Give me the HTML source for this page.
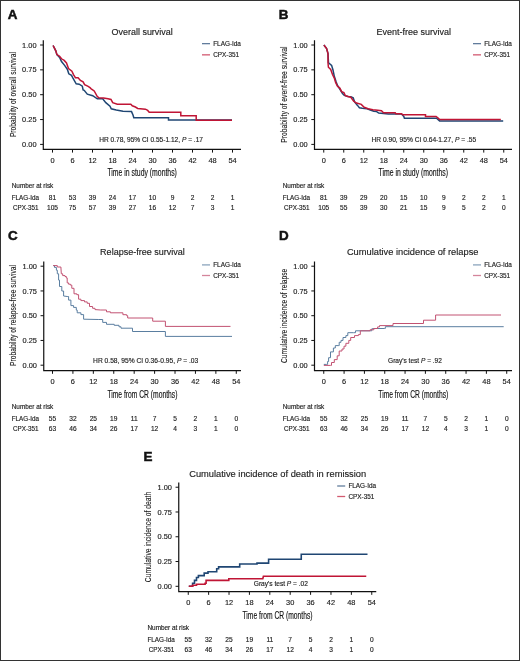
<!DOCTYPE html>
<html><head><meta charset="utf-8"><style>
html,body{margin:0;padding:0;background:#fff;}
body{width:520px;height:661px;overflow:hidden;font-family:"Liberation Sans",sans-serif;position:relative;}
.frame{position:absolute;left:0;top:0;width:518px;height:659px;border:1px solid #333;}
svg{display:block;filter:blur(0.3px);}
</style></head><body>
<svg width="520" height="661" viewBox="0 0 520 661" font-family="Liberation Sans, sans-serif">
<rect x="0" y="0" width="520" height="661" fill="#fff"/>
<text x="7.8" y="18.9" font-size="13.4" font-weight="bold" fill="#111" stroke="#111" stroke-width="0.5">A</text>
<text x="142.15" y="34.6" font-size="9.6" text-anchor="middle" textLength="61.3" lengthAdjust="spacingAndGlyphs" fill="#222" stroke="#222" stroke-width="0.15">Overall survival</text>
<path d="M43.3 40.3V149.4H241" fill="none" stroke="#111" stroke-width="1.2"/>
<text x="36.5" y="147" font-size="7.4" text-anchor="end" fill="#222" stroke="#222" stroke-width="0.15">0.00</text>
<text x="36.5" y="122.15" font-size="7.4" text-anchor="end" fill="#222" stroke="#222" stroke-width="0.15">0.25</text>
<text x="36.5" y="97.3" font-size="7.4" text-anchor="end" fill="#222" stroke="#222" stroke-width="0.15">0.50</text>
<text x="36.5" y="72.45" font-size="7.4" text-anchor="end" fill="#222" stroke="#222" stroke-width="0.15">0.75</text>
<text x="36.5" y="47.6" font-size="7.4" text-anchor="end" fill="#222" stroke="#222" stroke-width="0.15">1.00</text>
<text x="52.5" y="162.8" font-size="7.4" text-anchor="middle" fill="#222" stroke="#222" stroke-width="0.15">0</text>
<text x="72.5" y="162.8" font-size="7.4" text-anchor="middle" fill="#222" stroke="#222" stroke-width="0.15">6</text>
<text x="92.5" y="162.8" font-size="7.4" text-anchor="middle" fill="#222" stroke="#222" stroke-width="0.15">12</text>
<text x="112.5" y="162.8" font-size="7.4" text-anchor="middle" fill="#222" stroke="#222" stroke-width="0.15">18</text>
<text x="132.5" y="162.8" font-size="7.4" text-anchor="middle" fill="#222" stroke="#222" stroke-width="0.15">24</text>
<text x="152.5" y="162.8" font-size="7.4" text-anchor="middle" fill="#222" stroke="#222" stroke-width="0.15">30</text>
<text x="172.5" y="162.8" font-size="7.4" text-anchor="middle" fill="#222" stroke="#222" stroke-width="0.15">36</text>
<text x="192.5" y="162.8" font-size="7.4" text-anchor="middle" fill="#222" stroke="#222" stroke-width="0.15">42</text>
<text x="212.5" y="162.8" font-size="7.4" text-anchor="middle" fill="#222" stroke="#222" stroke-width="0.15">48</text>
<text x="232.5" y="162.8" font-size="7.4" text-anchor="middle" fill="#222" stroke="#222" stroke-width="0.15">54</text>
<path d="M40.1 144.4H43.3M40.1 119.55H43.3M40.1 94.7H43.3M40.1 69.85H43.3M40.1 45H43.3M52.5 149.4V152.6M72.5 149.4V152.6M92.5 149.4V152.6M112.5 149.4V152.6M132.5 149.4V152.6M152.5 149.4V152.6M172.5 149.4V152.6M192.5 149.4V152.6M212.5 149.4V152.6M232.5 149.4V152.6" fill="none" stroke="#111" stroke-width="1"/>
<text x="142.15" y="176.3" font-size="10.2" text-anchor="middle" textLength="69.5" lengthAdjust="spacingAndGlyphs" fill="#111" stroke="#111" stroke-width="0.15">Time in study (months)</text>
<text transform="translate(15.6 94.6) rotate(-90)" x="0" y="0" font-size="9.8" text-anchor="middle" textLength="85" lengthAdjust="spacingAndGlyphs" fill="#111" stroke="#111" stroke-width="0.08">Probability of overall survival</text>
<path d="M202 43.65h8" stroke="#1f4673" stroke-width="1.3" opacity="0.7"/>
<path d="M202 54.85h8" stroke="#c01535" stroke-width="1.3" opacity="0.7"/>
<text x="213.2" y="46.05" font-size="6.4" fill="#222" stroke="#222" stroke-width="0.15">FLAG-Ida</text>
<text x="213.2" y="57.25" font-size="6.4" fill="#222" stroke="#222" stroke-width="0.15">CPX-351</text>
<text x="99.2" y="142.3" font-size="6.6" stroke="#222" stroke-width="0.15" textLength="103.8" lengthAdjust="spacingAndGlyphs" fill="#222">HR 0.78, 95% CI 0.55-1.12, <tspan font-style="italic">P</tspan> = .17</text>
<path d="M53.1 45.5 L55.8 50.8 L56.9 54.6 L59.6 57.5 L61.5 61.5 L64.6 65.4 L67.3 69.2 L68.8 73.8 L71.5 75.4 L73.1 78.5 L76.2 83.8 L79.2 84.2 L82.3 86.2 L83.1 90 L84.2 90.3 L87.3 94.2 L92.7 95.7 L97.3 98.8 L102.7 98.8 L105.8 102.6 L110 106.2 L111.25 108.75 L116.25 110 L123 111.2 L131.5 111.6 L133 115 L133.8 117.8 L168.5 117.8 L168.5 120 L232 120" fill="none" stroke="#1f4673" stroke-width="1.5" stroke-linejoin="miter"/>
<path d="M53.1 45.5 L55.8 50.8 L56.9 54.6 L59.6 56.2 L61.5 58.8 L64.2 60.4 L66.5 63 L68.5 68.5 L71.9 71.2 L73.5 74.6 L75.4 77.7 L78.1 77.7 L80.4 80.4 L83.1 81.9 L84.6 84.6 L87.7 86.2 L90 87.7 L91.2 88.8 L94.2 91 L97.3 96.5 L98.8 97.7 L103.5 98 L108 98.8 L111 99.5 L112.7 102.6 L117.3 104.2 L120 104.2 L130.8 104.2 L132.3 105.8 L135.4 107 L137.7 108.5 L145.4 109.2 L147.7 110.4 L149.2 112.2 L180.8 112.2 L180.8 115.8 L196.2 115.8 L196.2 120.2 L232 120.2" fill="none" stroke="#c01535" stroke-width="1.5" stroke-linejoin="miter"/>
<text x="11.75" y="188" font-size="6.4" fill="#222" stroke="#222" stroke-width="0.15">Number at risk</text>
<text x="11.75" y="199.8" font-size="6.3" fill="#222" stroke="#222" stroke-width="0.15">FLAG-Ida</text>
<text x="12.95" y="209.8" font-size="6.3" fill="#222" stroke="#222" stroke-width="0.15">CPX-351</text>
<text x="52.5" y="199.8" font-size="6.6" text-anchor="middle" fill="#222" stroke="#222" stroke-width="0.15">81</text>
<text x="52.5" y="209.8" font-size="6.6" text-anchor="middle" fill="#222" stroke="#222" stroke-width="0.15">105</text>
<text x="72.5" y="199.8" font-size="6.6" text-anchor="middle" fill="#222" stroke="#222" stroke-width="0.15">53</text>
<text x="72.5" y="209.8" font-size="6.6" text-anchor="middle" fill="#222" stroke="#222" stroke-width="0.15">75</text>
<text x="92.5" y="199.8" font-size="6.6" text-anchor="middle" fill="#222" stroke="#222" stroke-width="0.15">39</text>
<text x="92.5" y="209.8" font-size="6.6" text-anchor="middle" fill="#222" stroke="#222" stroke-width="0.15">57</text>
<text x="112.5" y="199.8" font-size="6.6" text-anchor="middle" fill="#222" stroke="#222" stroke-width="0.15">24</text>
<text x="112.5" y="209.8" font-size="6.6" text-anchor="middle" fill="#222" stroke="#222" stroke-width="0.15">39</text>
<text x="132.5" y="199.8" font-size="6.6" text-anchor="middle" fill="#222" stroke="#222" stroke-width="0.15">17</text>
<text x="132.5" y="209.8" font-size="6.6" text-anchor="middle" fill="#222" stroke="#222" stroke-width="0.15">27</text>
<text x="152.5" y="199.8" font-size="6.6" text-anchor="middle" fill="#222" stroke="#222" stroke-width="0.15">10</text>
<text x="152.5" y="209.8" font-size="6.6" text-anchor="middle" fill="#222" stroke="#222" stroke-width="0.15">16</text>
<text x="172.5" y="199.8" font-size="6.6" text-anchor="middle" fill="#222" stroke="#222" stroke-width="0.15">9</text>
<text x="172.5" y="209.8" font-size="6.6" text-anchor="middle" fill="#222" stroke="#222" stroke-width="0.15">12</text>
<text x="192.5" y="199.8" font-size="6.6" text-anchor="middle" fill="#222" stroke="#222" stroke-width="0.15">2</text>
<text x="192.5" y="209.8" font-size="6.6" text-anchor="middle" fill="#222" stroke="#222" stroke-width="0.15">7</text>
<text x="212.5" y="199.8" font-size="6.6" text-anchor="middle" fill="#222" stroke="#222" stroke-width="0.15">2</text>
<text x="212.5" y="209.8" font-size="6.6" text-anchor="middle" fill="#222" stroke="#222" stroke-width="0.15">3</text>
<text x="232.5" y="199.8" font-size="6.6" text-anchor="middle" fill="#222" stroke="#222" stroke-width="0.15">1</text>
<text x="232.5" y="209.8" font-size="6.6" text-anchor="middle" fill="#222" stroke="#222" stroke-width="0.15">1</text>
<text x="278.8" y="18.9" font-size="13.4" font-weight="bold" fill="#111" stroke="#111" stroke-width="0.5">B</text>
<text x="413.8" y="34.6" font-size="9.6" text-anchor="middle" textLength="74.4" lengthAdjust="spacingAndGlyphs" fill="#222" stroke="#222" stroke-width="0.15">Event-free survival</text>
<path d="M314.5 40.3V149.4H512" fill="none" stroke="#111" stroke-width="1.2"/>
<text x="307.7" y="147" font-size="7.4" text-anchor="end" fill="#222" stroke="#222" stroke-width="0.15">0.00</text>
<text x="307.7" y="122.15" font-size="7.4" text-anchor="end" fill="#222" stroke="#222" stroke-width="0.15">0.25</text>
<text x="307.7" y="97.3" font-size="7.4" text-anchor="end" fill="#222" stroke="#222" stroke-width="0.15">0.50</text>
<text x="307.7" y="72.45" font-size="7.4" text-anchor="end" fill="#222" stroke="#222" stroke-width="0.15">0.75</text>
<text x="307.7" y="47.6" font-size="7.4" text-anchor="end" fill="#222" stroke="#222" stroke-width="0.15">1.00</text>
<text x="323.75" y="162.8" font-size="7.4" text-anchor="middle" fill="#222" stroke="#222" stroke-width="0.15">0</text>
<text x="343.75" y="162.8" font-size="7.4" text-anchor="middle" fill="#222" stroke="#222" stroke-width="0.15">6</text>
<text x="363.75" y="162.8" font-size="7.4" text-anchor="middle" fill="#222" stroke="#222" stroke-width="0.15">12</text>
<text x="383.75" y="162.8" font-size="7.4" text-anchor="middle" fill="#222" stroke="#222" stroke-width="0.15">18</text>
<text x="403.75" y="162.8" font-size="7.4" text-anchor="middle" fill="#222" stroke="#222" stroke-width="0.15">24</text>
<text x="423.75" y="162.8" font-size="7.4" text-anchor="middle" fill="#222" stroke="#222" stroke-width="0.15">30</text>
<text x="443.75" y="162.8" font-size="7.4" text-anchor="middle" fill="#222" stroke="#222" stroke-width="0.15">36</text>
<text x="463.75" y="162.8" font-size="7.4" text-anchor="middle" fill="#222" stroke="#222" stroke-width="0.15">42</text>
<text x="483.75" y="162.8" font-size="7.4" text-anchor="middle" fill="#222" stroke="#222" stroke-width="0.15">48</text>
<text x="503.75" y="162.8" font-size="7.4" text-anchor="middle" fill="#222" stroke="#222" stroke-width="0.15">54</text>
<path d="M311.3 144.4H314.5M311.3 119.55H314.5M311.3 94.7H314.5M311.3 69.85H314.5M311.3 45H314.5M323.75 149.4V152.6M343.75 149.4V152.6M363.75 149.4V152.6M383.75 149.4V152.6M403.75 149.4V152.6M423.75 149.4V152.6M443.75 149.4V152.6M463.75 149.4V152.6M483.75 149.4V152.6M503.75 149.4V152.6" fill="none" stroke="#111" stroke-width="1"/>
<text x="413.3" y="176.3" font-size="10.2" text-anchor="middle" textLength="69.5" lengthAdjust="spacingAndGlyphs" fill="#111" stroke="#111" stroke-width="0.15">Time in study (months)</text>
<text transform="translate(286.8 94.6) rotate(-90)" x="0" y="0" font-size="9.8" text-anchor="middle" textLength="96.4" lengthAdjust="spacingAndGlyphs" fill="#111" stroke="#111" stroke-width="0.08">Probability of event-free survival</text>
<path d="M473 43.65h8" stroke="#1f4673" stroke-width="1.3" opacity="0.7"/>
<path d="M473 54.85h8" stroke="#c01535" stroke-width="1.3" opacity="0.7"/>
<text x="484.2" y="46.05" font-size="6.4" fill="#222" stroke="#222" stroke-width="0.15">FLAG-Ida</text>
<text x="484.2" y="57.25" font-size="6.4" fill="#222" stroke="#222" stroke-width="0.15">CPX-351</text>
<text x="371.5" y="142.3" font-size="6.6" stroke="#222" stroke-width="0.15" textLength="104.7" lengthAdjust="spacingAndGlyphs" fill="#222">HR 0.90, 95% CI 0.64-1.27, <tspan font-style="italic">P</tspan> = .55</text>
<path d="M323.9 45 L326.6 48.6 L328 53.6 L328.5 62.7 L331.6 65.4 L333 70 L334.3 76.3 L336.1 81.7 L337.5 85.4 L339.8 89 L342.5 93.5 L344.3 95.4 L348 96.5 L350.8 96.7 L353.2 97.7 L354.6 102 L357.5 105.4 L359.4 107.8 L362.3 108.3 L367.1 108.8 L371 110.2 L373.8 111.2 L376.7 111.6 L378.7 113.1 L383.5 113.4 L388.3 114 L401.5 114 L403.8 116.5 L404.4 118.3 L436.5 118.3 L439.6 120.9 L503.2 120.9" fill="none" stroke="#1f4673" stroke-width="1.5" stroke-linejoin="miter"/>
<path d="M323.9 45 L326.6 48.6 L328 53.6 L328 62.7 L328.4 67.2 L330.7 69.5 L332.5 74.5 L334.3 78.1 L335.7 82.6 L337.5 86.3 L339.8 88.1 L341.6 91.7 L343.9 92.6 L345.2 95.4 L346.9 96.3 L350.8 97.2 L353.7 101.1 L356.5 103 L361.3 104.4 L364.2 107.3 L368.1 108.8 L372.9 109.7 L377.7 110.2 L381.5 110.7 L383.5 112.7 L395.2 112.7 L395.8 113.7 L401.5 113.7 L402.7 114.8 L425.5 114.8 L425.5 116.5 L436.1 116.5 L438.4 118.3 L439.6 119.6 L500.8 119.6" fill="none" stroke="#c01535" stroke-width="1.5" stroke-linejoin="miter"/>
<text x="282.75" y="188" font-size="6.4" fill="#222" stroke="#222" stroke-width="0.15">Number at risk</text>
<text x="282.75" y="199.8" font-size="6.3" fill="#222" stroke="#222" stroke-width="0.15">FLAG-Ida</text>
<text x="283.95" y="209.8" font-size="6.3" fill="#222" stroke="#222" stroke-width="0.15">CPX-351</text>
<text x="323.75" y="199.8" font-size="6.6" text-anchor="middle" fill="#222" stroke="#222" stroke-width="0.15">81</text>
<text x="323.75" y="209.8" font-size="6.6" text-anchor="middle" fill="#222" stroke="#222" stroke-width="0.15">105</text>
<text x="343.75" y="199.8" font-size="6.6" text-anchor="middle" fill="#222" stroke="#222" stroke-width="0.15">39</text>
<text x="343.75" y="209.8" font-size="6.6" text-anchor="middle" fill="#222" stroke="#222" stroke-width="0.15">55</text>
<text x="363.75" y="199.8" font-size="6.6" text-anchor="middle" fill="#222" stroke="#222" stroke-width="0.15">29</text>
<text x="363.75" y="209.8" font-size="6.6" text-anchor="middle" fill="#222" stroke="#222" stroke-width="0.15">39</text>
<text x="383.75" y="199.8" font-size="6.6" text-anchor="middle" fill="#222" stroke="#222" stroke-width="0.15">20</text>
<text x="383.75" y="209.8" font-size="6.6" text-anchor="middle" fill="#222" stroke="#222" stroke-width="0.15">30</text>
<text x="403.75" y="199.8" font-size="6.6" text-anchor="middle" fill="#222" stroke="#222" stroke-width="0.15">15</text>
<text x="403.75" y="209.8" font-size="6.6" text-anchor="middle" fill="#222" stroke="#222" stroke-width="0.15">21</text>
<text x="423.75" y="199.8" font-size="6.6" text-anchor="middle" fill="#222" stroke="#222" stroke-width="0.15">10</text>
<text x="423.75" y="209.8" font-size="6.6" text-anchor="middle" fill="#222" stroke="#222" stroke-width="0.15">15</text>
<text x="443.75" y="199.8" font-size="6.6" text-anchor="middle" fill="#222" stroke="#222" stroke-width="0.15">9</text>
<text x="443.75" y="209.8" font-size="6.6" text-anchor="middle" fill="#222" stroke="#222" stroke-width="0.15">9</text>
<text x="463.75" y="199.8" font-size="6.6" text-anchor="middle" fill="#222" stroke="#222" stroke-width="0.15">2</text>
<text x="463.75" y="209.8" font-size="6.6" text-anchor="middle" fill="#222" stroke="#222" stroke-width="0.15">5</text>
<text x="483.75" y="199.8" font-size="6.6" text-anchor="middle" fill="#222" stroke="#222" stroke-width="0.15">2</text>
<text x="483.75" y="209.8" font-size="6.6" text-anchor="middle" fill="#222" stroke="#222" stroke-width="0.15">2</text>
<text x="503.75" y="199.8" font-size="6.6" text-anchor="middle" fill="#222" stroke="#222" stroke-width="0.15">1</text>
<text x="503.75" y="209.8" font-size="6.6" text-anchor="middle" fill="#222" stroke="#222" stroke-width="0.15">0</text>
<text x="8" y="240" font-size="13.4" font-weight="bold" fill="#111" stroke="#111" stroke-width="0.5">C</text>
<text x="142.5" y="255.4" font-size="9.6" text-anchor="middle" textLength="84.8" lengthAdjust="spacingAndGlyphs" fill="#222" stroke="#222" stroke-width="0.15">Relapse-free survival</text>
<path d="M43.75 261.5V370.6H241" fill="none" stroke="#111" stroke-width="1.2"/>
<text x="36.95" y="367.8" font-size="7.4" text-anchor="end" fill="#222" stroke="#222" stroke-width="0.15">0.00</text>
<text x="36.95" y="343.05" font-size="7.4" text-anchor="end" fill="#222" stroke="#222" stroke-width="0.15">0.25</text>
<text x="36.95" y="318.3" font-size="7.4" text-anchor="end" fill="#222" stroke="#222" stroke-width="0.15">0.50</text>
<text x="36.95" y="293.55" font-size="7.4" text-anchor="end" fill="#222" stroke="#222" stroke-width="0.15">0.75</text>
<text x="36.95" y="268.8" font-size="7.4" text-anchor="end" fill="#222" stroke="#222" stroke-width="0.15">1.00</text>
<text x="52.5" y="384" font-size="7.4" text-anchor="middle" fill="#222" stroke="#222" stroke-width="0.15">0</text>
<text x="72.92" y="384" font-size="7.4" text-anchor="middle" fill="#222" stroke="#222" stroke-width="0.15">6</text>
<text x="93.34" y="384" font-size="7.4" text-anchor="middle" fill="#222" stroke="#222" stroke-width="0.15">12</text>
<text x="113.76" y="384" font-size="7.4" text-anchor="middle" fill="#222" stroke="#222" stroke-width="0.15">18</text>
<text x="134.18" y="384" font-size="7.4" text-anchor="middle" fill="#222" stroke="#222" stroke-width="0.15">24</text>
<text x="154.6" y="384" font-size="7.4" text-anchor="middle" fill="#222" stroke="#222" stroke-width="0.15">30</text>
<text x="175.02" y="384" font-size="7.4" text-anchor="middle" fill="#222" stroke="#222" stroke-width="0.15">36</text>
<text x="195.44" y="384" font-size="7.4" text-anchor="middle" fill="#222" stroke="#222" stroke-width="0.15">42</text>
<text x="215.86" y="384" font-size="7.4" text-anchor="middle" fill="#222" stroke="#222" stroke-width="0.15">48</text>
<text x="236.28" y="384" font-size="7.4" text-anchor="middle" fill="#222" stroke="#222" stroke-width="0.15">54</text>
<path d="M40.55 365.2H43.75M40.55 340.45H43.75M40.55 315.7H43.75M40.55 290.95H43.75M40.55 266.2H43.75M52.5 370.6V373.8M72.92 370.6V373.8M93.34 370.6V373.8M113.76 370.6V373.8M134.18 370.6V373.8M154.6 370.6V373.8M175.02 370.6V373.8M195.44 370.6V373.8M215.86 370.6V373.8M236.28 370.6V373.8" fill="none" stroke="#111" stroke-width="1"/>
<text x="142.38" y="397.5" font-size="10.2" text-anchor="middle" textLength="70" lengthAdjust="spacingAndGlyphs" fill="#111" stroke="#111" stroke-width="0.15">Time from CR (months)</text>
<text transform="translate(15.6 315.5) rotate(-90)" x="0" y="0" font-size="9.8" text-anchor="middle" textLength="101" lengthAdjust="spacingAndGlyphs" fill="#111" stroke="#111" stroke-width="0.08">Probability of relapse-free survival</text>
<path d="M202 264.9h8" stroke="#5a7ea0" stroke-width="1.3" opacity="0.7"/>
<path d="M202 275.5h8" stroke="#c25272" stroke-width="1.3" opacity="0.7"/>
<text x="213.2" y="267.3" font-size="6.4" fill="#222" stroke="#222" stroke-width="0.15">FLAG-Ida</text>
<text x="213.2" y="277.9" font-size="6.4" fill="#222" stroke="#222" stroke-width="0.15">CPX-351</text>
<text x="93.1" y="363.4" font-size="6.6" stroke="#222" stroke-width="0.15" textLength="105.2" lengthAdjust="spacingAndGlyphs" fill="#222">HR 0.58, 95% CI 0.36-0.95, <tspan font-style="italic">P</tspan> = .03</text>
<path d="M53.2 265.6 L54.5 265.6 L54.5 267.4 L56.4 267.4 L56.4 270.2 L57.3 270.2 L57.3 273.8 L58.6 273.8 L58.6 280.1 L59.5 280.1 L59.5 286.5 L61.8 286.5 L61.8 291 L63.6 291 L63.6 296 L67.2 296.5 L68.6 296.5 L68.6 300.1 L70.9 300.1 L70.9 305.6 L73.6 305.6 L73.6 307.4 L76.3 307.4 L76.3 310.1 L77.2 310.1 L77.2 312.8 L80.9 312.8 L80.9 314.6 L83.6 314.6 L83.6 319.2 L98.8 319.5 L102.7 319.5 L102.7 322.4 L106.5 322.4 L106.5 324.3 L114.2 324.3 L114.2 325.3 L119 325.3 L119 326.8 L121 326.8 L121 328.2 L132.5 328.2 L132.5 331.5 L165.4 331.5 L165.4 336.4 L232 336.4" fill="none" stroke="#5a7ea0" stroke-width="1.0" stroke-linejoin="miter"/>
<path d="M53.2 265.6 L57.3 265.6 L57.3 267 L60.9 267 L61.3 273.8 L62.7 273.8 L62.7 275.6 L65 275.6 L65 276.5 L66.3 276.5 L66.3 277.9 L67.2 277.9 L67.2 282.9 L68.6 282.9 L68.6 284.2 L70.4 284.2 L70.4 285.1 L71.8 285.1 L71.8 288.3 L74 288.3 L74 293.8 L76.8 293.8 L76.8 294.7 L78.6 294.7 L78.6 299.2 L80.9 299.2 L80.9 300.6 L84.5 300.6 L84.5 301.9 L87.2 301.9 L87.2 303.3 L89.5 303.3 L89.5 306.5 L92.6 306.5 L92.6 308.3 L95 308.3 L95 309.6 L100.8 310 L106.5 310 L106.5 311.8 L110.4 311.8 L110.4 312.8 L121 312.8 L122.9 312.8 L122.9 314.7 L126.7 314.7 L126.7 315.7 L127.7 315.7 L127.7 318 L152.7 318 L152.7 321.2 L165.4 321.2 L165.4 326.4 L230.5 326.4" fill="none" stroke="#c25272" stroke-width="1.0" stroke-linejoin="miter"/>
<text x="11.75" y="409" font-size="6.4" fill="#222" stroke="#222" stroke-width="0.15">Number at risk</text>
<text x="11.75" y="420.8" font-size="6.3" fill="#222" stroke="#222" stroke-width="0.15">FLAG-Ida</text>
<text x="12.95" y="430.8" font-size="6.3" fill="#222" stroke="#222" stroke-width="0.15">CPX-351</text>
<text x="52.5" y="420.8" font-size="6.6" text-anchor="middle" fill="#222" stroke="#222" stroke-width="0.15">55</text>
<text x="52.5" y="430.8" font-size="6.6" text-anchor="middle" fill="#222" stroke="#222" stroke-width="0.15">63</text>
<text x="72.92" y="420.8" font-size="6.6" text-anchor="middle" fill="#222" stroke="#222" stroke-width="0.15">32</text>
<text x="72.92" y="430.8" font-size="6.6" text-anchor="middle" fill="#222" stroke="#222" stroke-width="0.15">46</text>
<text x="93.34" y="420.8" font-size="6.6" text-anchor="middle" fill="#222" stroke="#222" stroke-width="0.15">25</text>
<text x="93.34" y="430.8" font-size="6.6" text-anchor="middle" fill="#222" stroke="#222" stroke-width="0.15">34</text>
<text x="113.76" y="420.8" font-size="6.6" text-anchor="middle" fill="#222" stroke="#222" stroke-width="0.15">19</text>
<text x="113.76" y="430.8" font-size="6.6" text-anchor="middle" fill="#222" stroke="#222" stroke-width="0.15">26</text>
<text x="134.18" y="420.8" font-size="6.6" text-anchor="middle" fill="#222" stroke="#222" stroke-width="0.15">11</text>
<text x="134.18" y="430.8" font-size="6.6" text-anchor="middle" fill="#222" stroke="#222" stroke-width="0.15">17</text>
<text x="154.6" y="420.8" font-size="6.6" text-anchor="middle" fill="#222" stroke="#222" stroke-width="0.15">7</text>
<text x="154.6" y="430.8" font-size="6.6" text-anchor="middle" fill="#222" stroke="#222" stroke-width="0.15">12</text>
<text x="175.02" y="420.8" font-size="6.6" text-anchor="middle" fill="#222" stroke="#222" stroke-width="0.15">5</text>
<text x="175.02" y="430.8" font-size="6.6" text-anchor="middle" fill="#222" stroke="#222" stroke-width="0.15">4</text>
<text x="195.44" y="420.8" font-size="6.6" text-anchor="middle" fill="#222" stroke="#222" stroke-width="0.15">2</text>
<text x="195.44" y="430.8" font-size="6.6" text-anchor="middle" fill="#222" stroke="#222" stroke-width="0.15">3</text>
<text x="215.86" y="420.8" font-size="6.6" text-anchor="middle" fill="#222" stroke="#222" stroke-width="0.15">1</text>
<text x="215.86" y="430.8" font-size="6.6" text-anchor="middle" fill="#222" stroke="#222" stroke-width="0.15">1</text>
<text x="236.28" y="420.8" font-size="6.6" text-anchor="middle" fill="#222" stroke="#222" stroke-width="0.15">0</text>
<text x="236.28" y="430.8" font-size="6.6" text-anchor="middle" fill="#222" stroke="#222" stroke-width="0.15">0</text>
<text x="279" y="240" font-size="13.4" font-weight="bold" fill="#111" stroke="#111" stroke-width="0.5">D</text>
<text x="412.7" y="255.4" font-size="9.6" text-anchor="middle" textLength="131.6" lengthAdjust="spacingAndGlyphs" fill="#222" stroke="#222" stroke-width="0.15">Cumulative incidence of relapse</text>
<path d="M314.5 261.5V370.6H512" fill="none" stroke="#111" stroke-width="1.2"/>
<text x="307.7" y="367.8" font-size="7.4" text-anchor="end" fill="#222" stroke="#222" stroke-width="0.15">0.00</text>
<text x="307.7" y="343.05" font-size="7.4" text-anchor="end" fill="#222" stroke="#222" stroke-width="0.15">0.25</text>
<text x="307.7" y="318.3" font-size="7.4" text-anchor="end" fill="#222" stroke="#222" stroke-width="0.15">0.50</text>
<text x="307.7" y="293.55" font-size="7.4" text-anchor="end" fill="#222" stroke="#222" stroke-width="0.15">0.75</text>
<text x="307.7" y="268.8" font-size="7.4" text-anchor="end" fill="#222" stroke="#222" stroke-width="0.15">1.00</text>
<text x="323.75" y="384" font-size="7.4" text-anchor="middle" fill="#222" stroke="#222" stroke-width="0.15">0</text>
<text x="344.08" y="384" font-size="7.4" text-anchor="middle" fill="#222" stroke="#222" stroke-width="0.15">6</text>
<text x="364.41" y="384" font-size="7.4" text-anchor="middle" fill="#222" stroke="#222" stroke-width="0.15">12</text>
<text x="384.74" y="384" font-size="7.4" text-anchor="middle" fill="#222" stroke="#222" stroke-width="0.15">18</text>
<text x="405.07" y="384" font-size="7.4" text-anchor="middle" fill="#222" stroke="#222" stroke-width="0.15">24</text>
<text x="425.4" y="384" font-size="7.4" text-anchor="middle" fill="#222" stroke="#222" stroke-width="0.15">30</text>
<text x="445.73" y="384" font-size="7.4" text-anchor="middle" fill="#222" stroke="#222" stroke-width="0.15">36</text>
<text x="466.06" y="384" font-size="7.4" text-anchor="middle" fill="#222" stroke="#222" stroke-width="0.15">42</text>
<text x="486.39" y="384" font-size="7.4" text-anchor="middle" fill="#222" stroke="#222" stroke-width="0.15">48</text>
<text x="506.72" y="384" font-size="7.4" text-anchor="middle" fill="#222" stroke="#222" stroke-width="0.15">54</text>
<path d="M311.3 365.2H314.5M311.3 340.45H314.5M311.3 315.7H314.5M311.3 290.95H314.5M311.3 266.2H314.5M323.75 370.6V373.8M344.08 370.6V373.8M364.41 370.6V373.8M384.74 370.6V373.8M405.07 370.6V373.8M425.4 370.6V373.8M445.73 370.6V373.8M466.06 370.6V373.8M486.39 370.6V373.8M506.72 370.6V373.8" fill="none" stroke="#111" stroke-width="1"/>
<text x="413.3" y="397.5" font-size="10.2" text-anchor="middle" textLength="70" lengthAdjust="spacingAndGlyphs" fill="#111" stroke="#111" stroke-width="0.15">Time from CR (months)</text>
<text transform="translate(286.8 315.9) rotate(-90)" x="0" y="0" font-size="9.8" text-anchor="middle" textLength="94.4" lengthAdjust="spacingAndGlyphs" fill="#111" stroke="#111" stroke-width="0.08">Cumulative incidence of relapse</text>
<path d="M473 264.9h8" stroke="#5a7ea0" stroke-width="1.3" opacity="0.7"/>
<path d="M473 275.5h8" stroke="#c25272" stroke-width="1.3" opacity="0.7"/>
<text x="484.2" y="267.3" font-size="6.4" fill="#222" stroke="#222" stroke-width="0.15">FLAG-Ida</text>
<text x="484.2" y="277.9" font-size="6.4" fill="#222" stroke="#222" stroke-width="0.15">CPX-351</text>
<text x="388.1" y="363.1" font-size="6.6" stroke="#222" stroke-width="0.15" textLength="53.8" lengthAdjust="spacingAndGlyphs" fill="#222">Gray's test <tspan font-style="italic">P</tspan> = .92</text>
<path d="M323.8 364.4 L326.7 364.4 L327.6 364.4 L327.6 361.5 L328.6 361.5 L328.6 357.7 L330.5 357.7 L330.5 351.9 L333.4 351.9 L333.4 348 L335.3 348 L335.3 345.6 L338.2 345.6 L339.2 345.6 L339.2 342.3 L341 342.3 L341 340.4 L343 340.4 L343 337.5 L345.9 337.5 L345.9 335.6 L347.8 335.6 L347.8 332.7 L353.6 332.7 L355.5 332.7 L355.5 330.8 L369.9 330.8 L371.8 330.8 L371.8 328.8 L375.7 328.5 L384.3 328.5 L385.3 328.5 L385.3 326.7 L503.7 326.7" fill="none" stroke="#5a7ea0" stroke-width="1.0" stroke-linejoin="miter"/>
<path d="M323.8 365.4 L330.5 365.4 L331.5 365.4 L331.5 362.5 L334.3 362.5 L334.3 359.6 L337.2 359.6 L337.2 355.8 L339.2 355.8 L339.2 351 L342 351 L342 349 L344 349 L344 346.2 L345.9 346.2 L345.9 343.3 L348.8 343.3 L348.8 340.4 L350.7 340.4 L350.7 337.5 L354.5 337.5 L354.5 335.6 L358.4 335.6 L358.4 334.6 L360.3 334.6 L360.3 330.8 L368 330.8 L370 330.8 L370 329.8 L373.8 329.8 L373.8 328.5 L377.6 328.5 L377.6 326.9 L379.5 326.9 L379.5 325.6 L393 325.6 L393 323.5 L423.5 323.5 L423.5 320.2 L435.6 320.2 L435.6 315 L501 315" fill="none" stroke="#c25272" stroke-width="1.0" stroke-linejoin="miter"/>
<text x="282.75" y="409" font-size="6.4" fill="#222" stroke="#222" stroke-width="0.15">Number at risk</text>
<text x="282.75" y="420.8" font-size="6.3" fill="#222" stroke="#222" stroke-width="0.15">FLAG-Ida</text>
<text x="283.95" y="430.8" font-size="6.3" fill="#222" stroke="#222" stroke-width="0.15">CPX-351</text>
<text x="323.75" y="420.8" font-size="6.6" text-anchor="middle" fill="#222" stroke="#222" stroke-width="0.15">55</text>
<text x="323.75" y="430.8" font-size="6.6" text-anchor="middle" fill="#222" stroke="#222" stroke-width="0.15">63</text>
<text x="344.08" y="420.8" font-size="6.6" text-anchor="middle" fill="#222" stroke="#222" stroke-width="0.15">32</text>
<text x="344.08" y="430.8" font-size="6.6" text-anchor="middle" fill="#222" stroke="#222" stroke-width="0.15">46</text>
<text x="364.41" y="420.8" font-size="6.6" text-anchor="middle" fill="#222" stroke="#222" stroke-width="0.15">25</text>
<text x="364.41" y="430.8" font-size="6.6" text-anchor="middle" fill="#222" stroke="#222" stroke-width="0.15">34</text>
<text x="384.74" y="420.8" font-size="6.6" text-anchor="middle" fill="#222" stroke="#222" stroke-width="0.15">19</text>
<text x="384.74" y="430.8" font-size="6.6" text-anchor="middle" fill="#222" stroke="#222" stroke-width="0.15">26</text>
<text x="405.07" y="420.8" font-size="6.6" text-anchor="middle" fill="#222" stroke="#222" stroke-width="0.15">11</text>
<text x="405.07" y="430.8" font-size="6.6" text-anchor="middle" fill="#222" stroke="#222" stroke-width="0.15">17</text>
<text x="425.4" y="420.8" font-size="6.6" text-anchor="middle" fill="#222" stroke="#222" stroke-width="0.15">7</text>
<text x="425.4" y="430.8" font-size="6.6" text-anchor="middle" fill="#222" stroke="#222" stroke-width="0.15">12</text>
<text x="445.73" y="420.8" font-size="6.6" text-anchor="middle" fill="#222" stroke="#222" stroke-width="0.15">5</text>
<text x="445.73" y="430.8" font-size="6.6" text-anchor="middle" fill="#222" stroke="#222" stroke-width="0.15">4</text>
<text x="466.06" y="420.8" font-size="6.6" text-anchor="middle" fill="#222" stroke="#222" stroke-width="0.15">2</text>
<text x="466.06" y="430.8" font-size="6.6" text-anchor="middle" fill="#222" stroke="#222" stroke-width="0.15">3</text>
<text x="486.39" y="420.8" font-size="6.6" text-anchor="middle" fill="#222" stroke="#222" stroke-width="0.15">1</text>
<text x="486.39" y="430.8" font-size="6.6" text-anchor="middle" fill="#222" stroke="#222" stroke-width="0.15">1</text>
<text x="506.72" y="420.8" font-size="6.6" text-anchor="middle" fill="#222" stroke="#222" stroke-width="0.15">0</text>
<text x="506.72" y="430.8" font-size="6.6" text-anchor="middle" fill="#222" stroke="#222" stroke-width="0.15">0</text>
<text x="143.6" y="461.4" font-size="13.4" font-weight="bold" fill="#111" stroke="#111" stroke-width="0.5">E</text>
<text x="277.7" y="476.6" font-size="9.6" text-anchor="middle" textLength="177" lengthAdjust="spacingAndGlyphs" fill="#222" stroke="#222" stroke-width="0.15">Cumulative incidence of death in remission</text>
<path d="M178.75 482.5V591.65H376.25" fill="none" stroke="#111" stroke-width="1.2"/>
<text x="171.95" y="588.9" font-size="7.4" text-anchor="end" fill="#222" stroke="#222" stroke-width="0.15">0.00</text>
<text x="171.95" y="564.13" font-size="7.4" text-anchor="end" fill="#222" stroke="#222" stroke-width="0.15">0.25</text>
<text x="171.95" y="539.36" font-size="7.4" text-anchor="end" fill="#222" stroke="#222" stroke-width="0.15">0.50</text>
<text x="171.95" y="514.59" font-size="7.4" text-anchor="end" fill="#222" stroke="#222" stroke-width="0.15">0.75</text>
<text x="171.95" y="489.82" font-size="7.4" text-anchor="end" fill="#222" stroke="#222" stroke-width="0.15">1.00</text>
<text x="188.25" y="605.05" font-size="7.4" text-anchor="middle" fill="#222" stroke="#222" stroke-width="0.15">0</text>
<text x="208.64" y="605.05" font-size="7.4" text-anchor="middle" fill="#222" stroke="#222" stroke-width="0.15">6</text>
<text x="229.03" y="605.05" font-size="7.4" text-anchor="middle" fill="#222" stroke="#222" stroke-width="0.15">12</text>
<text x="249.42" y="605.05" font-size="7.4" text-anchor="middle" fill="#222" stroke="#222" stroke-width="0.15">18</text>
<text x="269.81" y="605.05" font-size="7.4" text-anchor="middle" fill="#222" stroke="#222" stroke-width="0.15">24</text>
<text x="290.2" y="605.05" font-size="7.4" text-anchor="middle" fill="#222" stroke="#222" stroke-width="0.15">30</text>
<text x="310.59" y="605.05" font-size="7.4" text-anchor="middle" fill="#222" stroke="#222" stroke-width="0.15">36</text>
<text x="330.98" y="605.05" font-size="7.4" text-anchor="middle" fill="#222" stroke="#222" stroke-width="0.15">42</text>
<text x="351.37" y="605.05" font-size="7.4" text-anchor="middle" fill="#222" stroke="#222" stroke-width="0.15">48</text>
<text x="371.76" y="605.05" font-size="7.4" text-anchor="middle" fill="#222" stroke="#222" stroke-width="0.15">54</text>
<path d="M175.55 586.3H178.75M175.55 561.53H178.75M175.55 536.76H178.75M175.55 511.99H178.75M175.55 487.22H178.75M188.25 591.65V594.85M208.64 591.65V594.85M229.03 591.65V594.85M249.42 591.65V594.85M269.81 591.65V594.85M290.2 591.65V594.85M310.59 591.65V594.85M330.98 591.65V594.85M351.37 591.65V594.85M371.76 591.65V594.85" fill="none" stroke="#111" stroke-width="1"/>
<text x="277.5" y="619" font-size="10.2" text-anchor="middle" textLength="70" lengthAdjust="spacingAndGlyphs" fill="#111" stroke="#111" stroke-width="0.15">Time from CR (months)</text>
<text transform="translate(151.2 537) rotate(-90)" x="0" y="0" font-size="9.8" text-anchor="middle" textLength="90.5" lengthAdjust="spacingAndGlyphs" fill="#111" stroke="#111" stroke-width="0.08">Cumulative incidence of death</text>
<path d="M337.2 486h8" stroke="#1f4673" stroke-width="1.3" opacity="0.7"/>
<path d="M337.2 496.5h8" stroke="#c01535" stroke-width="1.3" opacity="0.7"/>
<text x="348.4" y="488.4" font-size="6.4" fill="#222" stroke="#222" stroke-width="0.15">FLAG-Ida</text>
<text x="348.4" y="498.9" font-size="6.4" fill="#222" stroke="#222" stroke-width="0.15">CPX-351</text>
<text x="253.75" y="585.7" font-size="6.6" stroke="#222" stroke-width="0.15" textLength="54.2" lengthAdjust="spacingAndGlyphs" fill="#222">Gray's test <tspan font-style="italic">P</tspan> = .02</text>
<path d="M188.8 586.2 L191.1 586.2 L192.6 586.2 L192.6 583.3 L194.5 583.3 L194.5 580.4 L196.5 580.4 L196.5 577.5 L198.4 577.5 L198.4 575.6 L202.2 575.6 L204.2 575.6 L204.2 573.1 L208 573.1 L208 571.7 L214.7 571.7 L216.7 571.7 L216.7 568.8 L218.6 568.8 L218.6 566.9 L238.8 566.9 L239.7 566.9 L239.7 564 L256 564 L257 564 L257 563.1 L267.6 563.1 L268.6 563.1 L268.6 559.2 L301.25 559.2 L301.25 554.25 L367.5 554.25" fill="none" stroke="#1f4673" stroke-width="1.6" stroke-linejoin="miter"/>
<path d="M188.8 586.2 L191.7 586.2 L192.6 586.2 L192.6 585.2 L196.5 585.2 L196.5 584.2 L205.1 584.2 L205.1 583.3 L206.1 583.3 L206.1 580.4 L228.2 580.4 L228.8 580.4 L228.8 578.8 L262.8 578.8 L263.4 576.2 L366.25 576.2" fill="none" stroke="#c01535" stroke-width="1.6" stroke-linejoin="miter"/>
<text x="147.5" y="630" font-size="6.4" fill="#222" stroke="#222" stroke-width="0.15">Number at risk</text>
<text x="147.5" y="641.8" font-size="6.3" fill="#222" stroke="#222" stroke-width="0.15">FLAG-Ida</text>
<text x="148.7" y="651.8" font-size="6.3" fill="#222" stroke="#222" stroke-width="0.15">CPX-351</text>
<text x="188.25" y="641.8" font-size="6.6" text-anchor="middle" fill="#222" stroke="#222" stroke-width="0.15">55</text>
<text x="188.25" y="651.8" font-size="6.6" text-anchor="middle" fill="#222" stroke="#222" stroke-width="0.15">63</text>
<text x="208.64" y="641.8" font-size="6.6" text-anchor="middle" fill="#222" stroke="#222" stroke-width="0.15">32</text>
<text x="208.64" y="651.8" font-size="6.6" text-anchor="middle" fill="#222" stroke="#222" stroke-width="0.15">46</text>
<text x="229.03" y="641.8" font-size="6.6" text-anchor="middle" fill="#222" stroke="#222" stroke-width="0.15">25</text>
<text x="229.03" y="651.8" font-size="6.6" text-anchor="middle" fill="#222" stroke="#222" stroke-width="0.15">34</text>
<text x="249.42" y="641.8" font-size="6.6" text-anchor="middle" fill="#222" stroke="#222" stroke-width="0.15">19</text>
<text x="249.42" y="651.8" font-size="6.6" text-anchor="middle" fill="#222" stroke="#222" stroke-width="0.15">26</text>
<text x="269.81" y="641.8" font-size="6.6" text-anchor="middle" fill="#222" stroke="#222" stroke-width="0.15">11</text>
<text x="269.81" y="651.8" font-size="6.6" text-anchor="middle" fill="#222" stroke="#222" stroke-width="0.15">17</text>
<text x="290.2" y="641.8" font-size="6.6" text-anchor="middle" fill="#222" stroke="#222" stroke-width="0.15">7</text>
<text x="290.2" y="651.8" font-size="6.6" text-anchor="middle" fill="#222" stroke="#222" stroke-width="0.15">12</text>
<text x="310.59" y="641.8" font-size="6.6" text-anchor="middle" fill="#222" stroke="#222" stroke-width="0.15">5</text>
<text x="310.59" y="651.8" font-size="6.6" text-anchor="middle" fill="#222" stroke="#222" stroke-width="0.15">4</text>
<text x="330.98" y="641.8" font-size="6.6" text-anchor="middle" fill="#222" stroke="#222" stroke-width="0.15">2</text>
<text x="330.98" y="651.8" font-size="6.6" text-anchor="middle" fill="#222" stroke="#222" stroke-width="0.15">3</text>
<text x="351.37" y="641.8" font-size="6.6" text-anchor="middle" fill="#222" stroke="#222" stroke-width="0.15">1</text>
<text x="351.37" y="651.8" font-size="6.6" text-anchor="middle" fill="#222" stroke="#222" stroke-width="0.15">1</text>
<text x="371.76" y="641.8" font-size="6.6" text-anchor="middle" fill="#222" stroke="#222" stroke-width="0.15">0</text>
<text x="371.76" y="651.8" font-size="6.6" text-anchor="middle" fill="#222" stroke="#222" stroke-width="0.15">0</text>
</svg>
<div class="frame"></div>
</body></html>
